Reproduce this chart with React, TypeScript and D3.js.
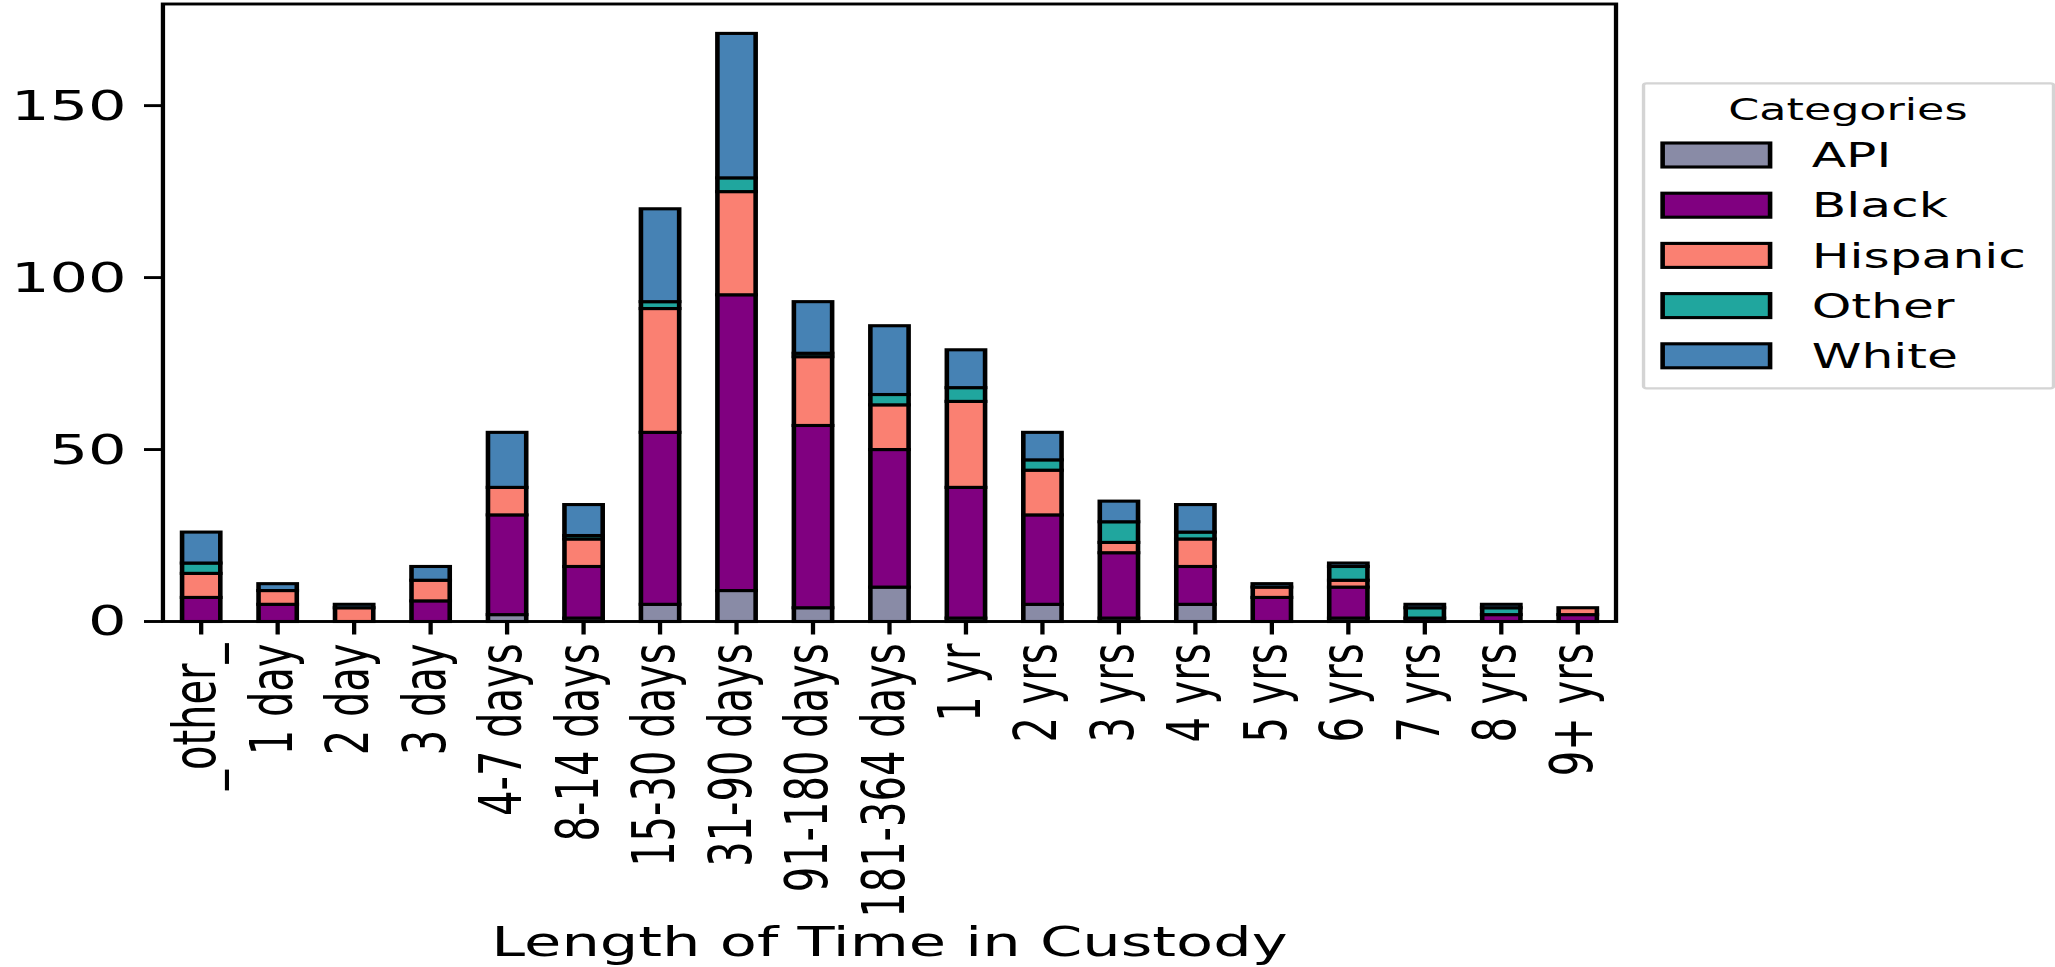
import React from 'react';
import * as d3 from 'd3';

// Custody durations (x categories)
const durations = [
  '_other_', '1 day', '2 day', '3 day', '4-7 days', '8-14 days', '15-30 days',
  '31-90 days', '91-180 days', '181-364 days', '1 yr', '2 yrs', '3 yrs', '4 yrs',
  '5 yrs', '6 yrs', '7 yrs', '8 yrs', '9+ yrs',
];

// Stacked series, bottom to top
const categories = ['API', 'Black', 'Hispanic', 'Other', 'White'];
const api = [0, 0, 0, 0, 2, 1, 5, 9, 4, 10, 1, 5, 1, 5, 0, 1, 0, 0, 0];
const black = [7, 5, 0, 6, 29, 15, 50, 86, 53, 40, 38, 26, 19, 11, 7, 9, 1, 2, 2];
const hispanic = [7, 4, 4, 6, 8, 8, 36, 30, 20, 13, 25, 13, 3, 8, 3, 2, 0, 0, 2];
const other = [3, 0, 0, 0, 0, 1, 2, 4, 1, 3, 4, 3, 6, 2, 0, 4, 3, 2, 0];
const white = [9, 2, 1, 4, 16, 9, 27, 42, 15, 20, 11, 8, 6, 8, 1, 1, 1, 1, 0];
const seriesColors = ['#898ba6', '#800080', '#fa8072', '#20a69e', '#4682b4'];

const yTicks = [0, 50, 100, 150];

const FIG_W = 2055;
const FIG_H = 967;
const SX = 1.48; // horizontal stretch of the figure
const VB_W = FIG_W / SX;

const plot = { left: 110.1, right: 1091.9, top: 4, bottom: 621.5 };
const FONT = "'DejaVu Sans', Verdana, sans-serif";
const LW = 3.1;

export default function App() {
  const seriesValues = [api, black, hispanic, other, white];
  const rows = durations.map((d, i) => {
    const r: Record<string, any> = { duration: d };
    categories.forEach((c, k) => (r[c] = seriesValues[k][i]));
    return r;
  });
  const stacked = d3.stack<any>().keys(categories)(rows);
  const totals = rows.map((r) => d3.sum(categories, (c) => r[c] as number));
  const yMax = (d3.max(totals) as number) * 1.05;

  const x = d3
    .scaleBand<string>()
    .domain(durations)
    .range([plot.left, plot.right])
    .paddingInner(0.5)
    .paddingOuter(0.25);
  const y = d3.scaleLinear().domain([0, yMax]).range([plot.bottom, plot.top]);
  const color = d3.scaleOrdinal<string, string>().domain(categories).range(seriesColors);

  const legend = { x: 1110.5, y: 83.3, w: 277, h: 305 };
  const entryY0 = 155;
  const entryStep = 50.2;

  return (
    <svg
      width={FIG_W}
      height={FIG_H}
      viewBox={`0 0 ${VB_W} ${FIG_H}`}
      preserveAspectRatio="none"
      style={{ position: 'absolute', left: 0, top: 0, background: '#fff' }}
      fontFamily={FONT}
    >
      <rect x={0} y={0} width={VB_W} height={FIG_H} fill="#fff" />

      {/* stacked bars */}
      {stacked.map((layer) => (
        <g key={layer.key} fill={color(layer.key)}>
          {layer.map((seg, i) => (
            <rect
              key={i}
              x={x(durations[i])}
              width={x.bandwidth()}
              y={y(seg[1])}
              height={y(seg[0]) - y(seg[1])}
              stroke="#000"
              strokeWidth={LW}
            />
          ))}
        </g>
      ))}

      {/* axes frame */}
      <rect
        x={plot.left}
        y={plot.top}
        width={plot.right - plot.left}
        height={plot.bottom - plot.top}
        fill="none"
        stroke="#000"
        strokeWidth={2.9}
      />

      {/* y axis */}
      {yTicks.map((t) => (
        <g key={t}>
          <line x1={plot.left - 12.8} x2={plot.left} y1={y(t)} y2={y(t)} stroke="#000" strokeWidth={2.9} />
          <text x={plot.left - 24.5} y={y(t) + 14} textAnchor="end" fontSize={41} fill="#000">
            {t}
          </text>
        </g>
      ))}

      {/* x axis */}
      {durations.map((d) => {
        const cx = (x(d) as number) + x.bandwidth() / 2;
        return (
          <g key={d}>
            <line x1={cx} x2={cx} y1={plot.bottom} y2={plot.bottom + 13} stroke="#000" strokeWidth={2.9} />
            <text
              transform={`translate(${cx},${plot.bottom + 22}) rotate(-90)`}
              dy={9.5}
              textAnchor="end"
              fontSize={40}
              fill="#000"
            >
              {d}
            </text>
          </g>
        );
      })}
      <text x={(plot.left + plot.right) / 2} y={956.5} textAnchor="middle" fontSize={41} fill="#000">
        Length of Time in Custody
      </text>

      {/* legend */}
      <g>
        <rect
          x={legend.x}
          y={legend.y}
          width={legend.w}
          height={legend.h}
          rx={2}
          fill="#fff"
          fillOpacity={0.8}
          stroke="#d4d4d4"
          strokeWidth={2.3}
        />
        <text x={1248.6} y={120} textAnchor="middle" fontSize={30} fill="#000">
          Categories
        </text>
        {categories.map((c, k) => {
          const cy = entryY0 + k * entryStep;
          return (
            <g key={c}>
              <rect x={1123.4} y={cy - 12} width={72.6} height={24} fill={color(c)} stroke="#000" strokeWidth={LW} />
              <text x={1224.1} y={cy + 12.3} fontSize={34} fill="#000">
                {c}
              </text>
            </g>
          );
        })}
      </g>
    </svg>
  );
}
